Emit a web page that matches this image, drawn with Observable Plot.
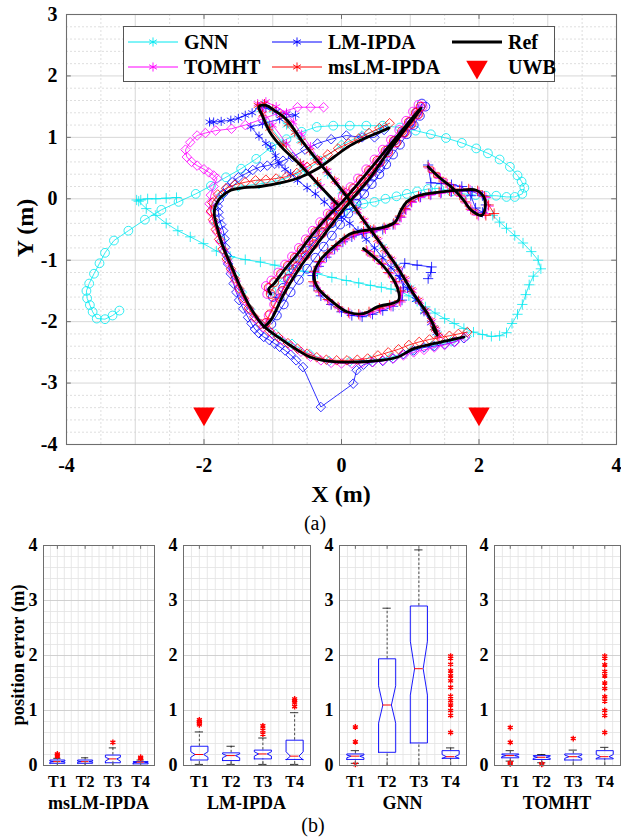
<!DOCTYPE html>
<html><head><meta charset="utf-8">
<script src="https://cdn.jsdelivr.net/npm/d3@7"></script>
<script src="https://cdn.jsdelivr.net/npm/@observablehq/plot@0.6"></script>
<style>
body{margin:0;background:#fff;}
#wrap{position:relative;width:621px;height:839px;overflow:hidden;background:#fff;}
#wrap svg{position:absolute;}
</style></head><body><div id="wrap"></div>
<script>
// ---------- axis / category data ----------
const xTickVals = [-4, -2, 0, 2, 4];
const yTickVals = [-4, -3, -2, -1, 0, 1, 2, 3];
const methods = ["GNN", "LM-IPDA", "TOMHT", "msLM-IPDA"];
const targets = ["T1", "T2", "T3", "T4"];
const uwbX = [-2, 2];
const uwbY = [-3.5, -3.5];

// ---------- reference trajectories (x,y pairs, metres) ----------
const refT1 = [-0.05,-0.1, -0.35,0.25, -0.6,0.55, -0.87,0.84, -1.05,1.1, -1.15,1.35, -1.2,1.5, -1.1,1.52, -0.98,1.44, -0.79,1.28, -0.6,0.98, -0.35,0.62, -0.11,0.3, 0.08,0.03, 0.32,-0.35, 0.57,-0.73, 0.81,-1.11, 1.05,-1.55, 1.25,-1.87, 1.37,-2.14, 1.39,-2.22, 1.33,-2.1];
const refT2 = [-1.03,-1.55, -1.06,-1.47, -0.98,-1.38, -0.84,-1.17, -0.64,-0.9, -0.45,-0.62, -0.21,-0.3, 0.03,-0.03, 0.28,0.3, 0.52,0.62, 0.76,0.95, 0.96,1.22, 1.1,1.41, 1.16,1.48, 1.1,1.38, 0.91,1.11, 0.66,0.73, 0.42,0.35, 0.18,0.03, -0.06,-0.3, -0.35,-0.73, -0.6,-1.11, -0.84,-1.55, -1.03,-1.98, -1.13,-2.09];
const refT3 = [1.26,0.52, 1.42,0.35, 1.63,0.16, 1.78,-0.03, 1.89,-0.19, 2.04,-0.27, 2.09,-0.14, 2.07,0.03, 1.96,0.14, 1.73,0.14, 1.42,0.11, 1.11,0.05, 0.95,-0.05, 0.86,-0.2, 0.78,-0.38, 0.62,-0.46, 0.32,-0.52, 0.13,-0.57, -0.06,-0.73, -0.31,-1.0, -0.4,-1.22, -0.35,-1.44, -0.16,-1.65, 0.08,-1.84, 0.32,-1.87, 0.52,-1.76, 0.83,-1.65, 0.81,-1.44, 0.62,-1.11, 0.42,-0.9, 0.32,-0.81];
const refT4 = [0.69,1.15, 0.52,1.07, 0.37,1.0, 0.13,0.87, -0.11,0.68, -0.35,0.49, -0.6,0.35, -0.84,0.27, -1.18,0.2, -1.42,0.18, -1.61,0.14, -1.76,0.02, -1.84,-0.14, -1.85,-0.26, -1.8,-0.5, -1.72,-0.79, -1.6,-1.1, -1.47,-1.44, -1.33,-1.76, -1.15,-2.05, -0.9,-2.27, -0.66,-2.45, -0.45,-2.58, -0.22,-2.64, 0.1,-2.66, 0.57,-2.63, 0.81,-2.58, 1.05,-2.44, 1.29,-2.37, 1.54,-2.31, 1.78,-2.25];

// ---------- GNN tracks ----------
const gnnT1 = [-0.1,-0.1, -0.35,0.25, -0.6,0.58, -0.85,0.9, -1.05,1.2, -1.18,1.45, -1.15,1.52, -1.0,1.44, -0.8,1.2, -0.6,0.95, -0.4,0.68, -0.2,0.4, 0.0,0.12, 0.2,-0.18, 0.4,-0.48, 0.6,-0.78, 0.8,-1.1, 1.0,-1.45, 1.2,-1.82, 1.35,-2.1, 1.4,-2.2];
const gnnT2 = [-1.02,-1.5, -0.85,-1.28, -0.68,-1.05, -0.5,-0.82, -0.32,-0.6, -0.15,-0.4, 0.02,-0.22, 0.18,-0.12, 0.32,-0.08, 0.48,-0.05, 0.64,0.0, 0.8,0.04, 0.95,0.08, 1.1,0.12, 1.26,0.16, 1.42,0.17, 1.6,0.12, 1.78,0.08, 1.95,0.06, 2.1,0.05, 2.25,0.05, 2.4,0.03, 2.52,0.03, 2.63,0.08, 2.66,0.18, 2.62,0.28, 2.56,0.38, 2.45,0.52, 2.3,0.64, 2.13,0.74, 1.96,0.82, 1.75,0.91, 1.52,0.99, 1.3,1.05, 1.08,1.11, 0.85,1.16, 0.6,1.19, 0.36,1.19, 0.12,1.19, -0.12,1.19, -0.36,1.17, -0.58,1.09, -0.8,0.97, -1.02,0.84, -1.24,0.65, -1.46,0.49, -1.68,0.35, -1.9,0.21, -2.12,0.08, -2.37,-0.05, -2.62,-0.18, -2.86,-0.34, -3.1,-0.52, -3.31,-0.68, -3.44,-0.88, -3.52,-1.05, -3.6,-1.22, -3.67,-1.38, -3.71,-1.5, -3.7,-1.62, -3.66,-1.73, -3.62,-1.84, -3.56,-1.95, -3.44,-1.96, -3.33,-1.9, -3.23,-1.82];
const gnnT3 = [-2.4,0.02, -2.55,0.01, -2.7,0.0, -2.82,0.0, -2.92,-0.02, -2.98,-0.02, -2.95,-0.04, -2.84,-0.16, -2.7,-0.27, -2.55,-0.4, -2.38,-0.52, -2.2,-0.62, -2.01,-0.73, -1.82,-0.85, -1.62,-0.94, -1.4,-0.99, -1.18,-1.03, -0.97,-1.08, -0.76,-1.14, -0.55,-1.18, -0.35,-1.22, -0.14,-1.28, 0.07,-1.33, 0.25,-1.37, 0.42,-1.41, 0.58,-1.44, 0.72,-1.47, 0.86,-1.51, 0.98,-1.58, 1.1,-1.67, 1.22,-1.76, 1.36,-1.86, 1.5,-1.95, 1.64,-2.03, 1.78,-2.11, 1.92,-2.17, 2.05,-2.21, 2.18,-2.24, 2.3,-2.23, 2.4,-2.18, 2.48,-2.03, 2.56,-1.88, 2.63,-1.72, 2.68,-1.56, 2.73,-1.4, 2.79,-1.26, 2.9,-1.14, 2.86,-1.0, 2.76,-0.86, 2.64,-0.72, 2.52,-0.6, 2.4,-0.48, 2.3,-0.38, 2.2,-0.27];
const gnnT4 = [0.62,1.16, 0.3,1.03, 0.0,0.88, -0.3,0.62, -0.6,0.42, -0.9,0.3, -1.2,0.24, -1.5,0.2, -1.75,0.06, -1.86,-0.14, -1.82,-0.4, -1.74,-0.68, -1.64,-0.96, -1.55,-1.24, -1.45,-1.52, -1.33,-1.8, -1.18,-2.04, -0.96,-2.2, -0.72,-2.36, -0.46,-2.53, -0.18,-2.64, 0.12,-2.65, 0.42,-2.63, 0.72,-2.58, 1.02,-2.47, 1.32,-2.39, 1.6,-2.32, 1.82,-2.24];

// ---------- LM-IPDA tracks ----------
const lmT1 = [-1.92,1.25, -1.86,1.25, -1.75,1.26, -1.61,1.28, -1.5,1.31, -1.4,1.36, -1.3,1.4, -1.2,1.5, -1.1,1.48, -0.95,1.42, -0.8,1.38, -0.67,1.36, -0.9,1.3, -1.15,1.22, -1.32,1.17, -1.2,1.02, -1.1,0.9, -1.03,0.84, -0.96,0.7, -0.91,0.57, -0.82,0.48, -0.74,0.41, -0.64,0.3, -0.5,0.18, -0.38,0.08, -0.25,-0.05, -0.12,-0.18, 0.0,-0.3, 0.12,-0.4, 0.24,-0.52, 0.36,-0.66, 0.48,-0.8, 0.6,-0.96, 0.72,-1.12, 0.84,-1.28, 0.96,-1.46, 1.08,-1.64, 1.2,-1.84, 1.3,-2.02, 1.38,-2.18];
const lmT2 = [-1.0,-1.6, -0.9,-1.62, -0.85,-1.45, -0.78,-1.3, -0.7,-1.15, -0.6,-1.0, -0.5,-0.85, -0.4,-0.7, -0.28,-0.55, -0.15,-0.4, -0.02,-0.25, 0.1,-0.1, 0.22,0.05, 0.34,0.2, 0.46,0.36, 0.56,0.5, 0.6,0.65, 0.68,0.8, 0.78,0.95, 0.9,1.08, 1.0,1.25, 1.1,1.42, 1.17,1.55, 1.22,1.5, 1.14,1.35, 1.05,1.2, 0.95,1.05, 0.85,0.88, 0.75,0.72, 0.65,0.56, 0.55,0.4, 0.44,0.24, 0.33,0.08, 0.22,-0.08, 0.1,-0.24, -0.02,-0.42, -0.14,-0.6, -0.26,-0.78, -0.38,-0.96, -0.5,-1.14, -0.62,-1.32, -0.74,-1.52, -0.84,-1.72, -0.94,-1.9, -1.02,-2.04];
const lmT3 = [1.26,0.55, 1.3,0.26, 1.45,0.25, 1.6,0.23, 1.75,0.2, 1.88,0.05, 1.95,-0.15, 2.05,-0.22, 2.1,-0.1, 2.05,0.05, 1.9,0.12, 1.75,0.13, 1.6,0.12, 1.45,0.1, 1.3,0.07, 1.15,0.03, 1.02,-0.05, 0.93,-0.17, 0.85,-0.3, 0.75,-0.42, 0.6,-0.5, 0.45,-0.54, 0.3,-0.57, 0.15,-0.62, 0.02,-0.7, -0.1,-0.82, -0.22,-0.95, -0.33,-1.1, -0.42,-1.25, -0.4,-1.42, -0.3,-1.58, -0.15,-1.72, 0.0,-1.84, 0.15,-1.9, 0.3,-1.92, 0.45,-1.88, 0.6,-1.82, 0.75,-1.75, 0.88,-1.65, 0.9,-1.45, 0.85,-1.25, 0.92,-1.05, 1.1,-1.08, 1.31,-1.11, 1.3,-1.2, 1.26,-1.3];
const lmT4 = [0.62,1.12, 0.48,1.0, 0.3,1.0, 0.07,1.03, -0.15,0.97, -0.35,0.9, -0.53,0.8, -0.71,0.68, -0.85,0.62, -0.97,0.57, -1.08,0.54, -1.18,0.52, -1.29,0.47, -1.39,0.41, -1.5,0.35, -1.59,0.27, -1.66,0.18, -1.72,0.08, -1.78,-0.02, -1.8,-0.12, -1.79,-0.22, -1.78,-0.32, -1.75,-0.42, -1.72,-0.52, -1.7,-0.65, -1.69,-0.79, -1.67,-0.92, -1.65,-1.06, -1.61,-1.22, -1.57,-1.38, -1.53,-1.52, -1.49,-1.65, -1.43,-1.79, -1.36,-1.93, -1.31,-2.03, -1.26,-2.12, -1.2,-2.19, -1.13,-2.25, -1.05,-2.3, -0.97,-2.36, -0.9,-2.41, -0.82,-2.47, -0.74,-2.54, -0.66,-2.63, -0.56,-2.74, -0.3,-3.39, 0.17,-3.01, 0.22,-2.79, 0.32,-2.7, 0.45,-2.66, 0.6,-2.64, 0.75,-2.6, 0.9,-2.53, 1.05,-2.47, 1.2,-2.42, 1.35,-2.4, 1.5,-2.37, 1.64,-2.33, 1.78,-2.27];

// ---------- TOMHT tracks ----------
const toT1 = [-0.1,-0.1, -0.3,0.2, -0.55,0.55, -0.8,0.9, -1.0,1.2, -1.15,1.45, -1.22,1.55, -1.1,1.58, -0.95,1.5, -0.8,1.4, -0.7,1.25, -0.58,1.05, -0.45,0.85, -0.32,0.62, -0.2,0.45, -0.08,0.28, 0.04,0.12, 0.14,-0.04, 0.24,-0.2, 0.34,-0.36, 0.44,-0.52, 0.54,-0.68, 0.64,-0.84, 0.74,-1.0, 0.84,-1.16, 0.94,-1.32, 1.04,-1.5, 1.14,-1.67, 1.24,-1.84, 1.32,-2.0, 1.38,-2.14, 1.42,-2.24, 1.36,-2.12];
const toT2 = [-1.08,-1.55, -1.1,-1.42, -1.02,-1.33, -0.92,-1.2, -0.82,-1.07, -0.72,-0.94, -0.62,-0.8, -0.52,-0.66, -0.42,-0.52, -0.31,-0.38, -0.2,-0.24, -0.09,-0.1, 0.02,0.04, 0.13,0.19, 0.24,0.33, 0.36,0.48, 0.48,0.64, 0.6,0.8, 0.72,0.96, 0.84,1.12, 0.94,1.27, 1.04,1.42, 1.12,1.53, 1.18,1.5, 1.1,1.36, 1.0,1.2, 0.9,1.06, 0.78,0.9, 0.66,0.74, 0.54,0.58, 0.42,0.42, 0.3,0.26, 0.18,0.1, 0.06,-0.06, -0.06,-0.22, -0.18,-0.4, -0.3,-0.58, -0.42,-0.76, -0.54,-0.94, -0.66,-1.12, -0.78,-1.32, -0.88,-1.52, -0.98,-1.72, -1.06,-1.9, -1.12,-2.04];
const toT3 = [1.28,0.5, 1.36,0.41, 1.44,0.33, 1.54,0.24, 1.65,0.14, 1.74,0.04, 1.82,-0.07, 1.9,-0.19, 1.99,-0.27, 2.09,-0.24, 2.14,-0.12, 2.1,0.02, 2.0,0.11, 1.87,0.14, 1.74,0.13, 1.59,0.11, 1.44,0.09, 1.29,0.06, 1.14,0.02, 1.02,-0.06, 0.94,-0.18, 0.87,-0.3, 0.78,-0.42, 0.64,-0.49, 0.49,-0.52, 0.34,-0.55, 0.19,-0.59, 0.06,-0.67, -0.06,-0.78, -0.18,-0.9, -0.3,-1.04, -0.38,-1.2, -0.39,-1.37, -0.31,-1.52, -0.18,-1.66, -0.03,-1.78, 0.12,-1.87, 0.27,-1.9, 0.42,-1.86, 0.57,-1.8, 0.72,-1.75, 0.86,-1.68, 0.88,-1.52, 0.8,-1.37, 0.7,-1.22, 0.6,-1.07, 0.48,-0.95, 0.38,-0.86];
const toT4 = [-0.26,1.49, -0.45,1.49, -0.64,1.49, -0.9,1.4, -1.15,1.3, -1.4,1.2, -1.6,1.14, -1.83,1.11, -1.98,1.07, -2.1,1.03, -2.2,0.92, -2.27,0.8, -2.25,0.68, -2.18,0.6, -2.1,0.54, -2.0,0.48, -1.93,0.43, -1.86,0.38, -1.81,0.33, -1.86,0.2, -1.9,0.06, -1.92,-0.08, -1.9,-0.22, -1.86,-0.38, -1.81,-0.54, -1.76,-0.7, -1.71,-0.86, -1.66,-1.02, -1.6,-1.18, -1.54,-1.34, -1.48,-1.5, -1.41,-1.66, -1.34,-1.81, -1.25,-1.96, -1.14,-2.09, -1.01,-2.2, -0.87,-2.3, -0.73,-2.4, -0.59,-2.49, -0.45,-2.57, -0.3,-2.63, -0.15,-2.67, 0.0,-2.68, 0.15,-2.68, 0.3,-2.67, 0.45,-2.66, 0.6,-2.63, 0.75,-2.6, 0.9,-2.55, 1.05,-2.5, 1.2,-2.46, 1.35,-2.42, 1.5,-2.38, 1.65,-2.33, 1.8,-2.25];

// ---------- msLM-IPDA tracks ----------
const msT1 = [-0.1,-0.05, -0.35,0.28, -0.6,0.58, -0.85,0.88, -1.05,1.15, -1.15,1.38, -1.22,1.52, -1.12,1.55, -1.0,1.46, -0.88,1.36, -0.78,1.22, -0.68,1.08, -0.58,0.94, -0.46,0.78, -0.34,0.62, -0.22,0.46, -0.1,0.3, 0.02,0.14, 0.12,-0.02, 0.22,-0.18, 0.32,-0.35, 0.42,-0.5, 0.52,-0.66, 0.62,-0.82, 0.72,-0.98, 0.82,-1.14, 0.92,-1.3, 1.02,-1.48, 1.12,-1.65, 1.22,-1.82, 1.3,-1.98, 1.36,-2.12, 1.4,-2.22, 1.34,-2.1];
const msT2 = [-1.03,-1.55, -1.06,-1.45, -0.98,-1.36, -0.88,-1.22, -0.78,-1.09, -0.68,-0.96, -0.58,-0.82, -0.48,-0.68, -0.38,-0.54, -0.27,-0.4, -0.16,-0.26, -0.05,-0.12, 0.06,0.02, 0.17,0.17, 0.28,0.31, 0.4,0.46, 0.52,0.62, 0.64,0.78, 0.76,0.94, 0.88,1.1, 0.98,1.25, 1.08,1.4, 1.15,1.5, 1.12,1.38, 1.02,1.22, 0.92,1.08, 0.8,0.92, 0.68,0.76, 0.56,0.6, 0.44,0.44, 0.32,0.28, 0.2,0.12, 0.08,-0.04, -0.04,-0.2, -0.16,-0.38, -0.28,-0.56, -0.4,-0.74, -0.52,-0.92, -0.64,-1.1, -0.76,-1.3, -0.86,-1.5, -0.96,-1.7, -1.04,-1.88, -1.1,-2.02];
const msT3 = [1.26,0.52, 1.34,0.43, 1.42,0.35, 1.52,0.26, 1.63,0.16, 1.72,0.06, 1.8,-0.05, 1.88,-0.17, 1.97,-0.25, 2.1,-0.27, 2.22,-0.24, 2.14,-0.1, 2.08,0.04, 1.98,0.13, 1.85,0.16, 1.72,0.15, 1.57,0.13, 1.42,0.11, 1.27,0.08, 1.12,0.04, 1.0,-0.04, 0.92,-0.16, 0.85,-0.28, 0.76,-0.4, 0.62,-0.47, 0.47,-0.5, 0.32,-0.53, 0.17,-0.57, 0.04,-0.65, -0.08,-0.76, -0.2,-0.88, -0.32,-1.02, -0.4,-1.18, -0.41,-1.35, -0.33,-1.5, -0.2,-1.64, -0.05,-1.76, 0.1,-1.85, 0.25,-1.88, 0.4,-1.84, 0.55,-1.78, 0.7,-1.73, 0.84,-1.66, 0.86,-1.5, 0.78,-1.35, 0.68,-1.2, 0.58,-1.05, 0.46,-0.93, 0.36,-0.84];
const msT4 = [0.7,1.23, 0.55,1.15, 0.4,1.07, 0.25,0.98, 0.1,0.9, -0.05,0.82, -0.2,0.72, -0.35,0.63, -0.5,0.52, -0.65,0.42, -0.8,0.36, -0.95,0.33, -1.1,0.31, -1.25,0.3, -1.4,0.27, -1.55,0.23, -1.68,0.17, -1.8,0.07, -1.88,-0.06, -1.9,-0.2, -1.87,-0.34, -1.83,-0.5, -1.78,-0.66, -1.73,-0.82, -1.67,-0.98, -1.61,-1.14, -1.55,-1.3, -1.49,-1.46, -1.42,-1.62, -1.35,-1.78, -1.27,-1.92, -1.17,-2.04, -1.05,-2.15, -0.92,-2.25, -0.78,-2.35, -0.64,-2.44, -0.5,-2.52, -0.36,-2.58, -0.22,-2.62, -0.07,-2.63, 0.08,-2.63, 0.23,-2.62, 0.38,-2.6, 0.53,-2.55, 0.68,-2.5, 0.83,-2.45, 0.98,-2.38, 1.13,-2.33, 1.28,-2.29, 1.43,-2.26, 1.57,-2.23, 1.7,-2.2, 1.83,-2.17];

// ---------- box-plot statistics (position error, m) ----------
const msQ1 = [0.04, 0.04, 0.05, 0.03];
const msMed = [0.07, 0.07, 0.12, 0.06];
const msQ3 = [0.10, 0.10, 0.19, 0.07];
const msNlo = [0.06, 0.06, 0.08, 0.05];
const msNhi = [0.08, 0.08, 0.15, 0.065];
const msWlo = [0.0, 0.0, 0.0, 0.0];
const msWhi = [0.13, 0.14, 0.32, 0.10];
const msOut = [[0.17, 0.19, 0.21], [], [0.42], [0.13, 0.15]];

const lmQ1 = [0.10, 0.09, 0.12, 0.11];
const lmMed = [0.20, 0.18, 0.21, 0.17];
const lmQ3 = [0.35, 0.23, 0.28, 0.46];
const lmNlo = [0.15, 0.14, 0.17, 0.10];
const lmNhi = [0.25, 0.21, 0.25, 0.25];
const lmWlo = [0.02, 0.02, 0.02, 0.02];
const lmWhi = [0.61, 0.35, 0.50, 0.96];
const lmOut = [[0.74, 0.77, 0.80, 0.83], [], [0.57, 0.64, 0.72], [1.07, 1.14, 1.18, 1.21]];

const gnQ1 = [0.11, 0.24, 0.41, 0.13];
const gnMed = [0.17, 1.10, 1.76, 0.16];
const gnQ3 = [0.21, 1.94, 2.90, 0.27];
const gnNlo = [0.14, 0.77, 1.28, 0.13];
const gnNhi = [0.19, 1.45, 2.26, 0.20];
const gnWlo = [0.04, 0.0, 0.0, 0.0];
const gnWhi = [0.27, 2.86, 3.92, 0.32];
const gnOut = [[0.02, 0.43, 0.70], [], [], [0.60, 0.91, 1.00, 1.10, 1.18, 1.26, 1.42, 1.54, 1.63, 1.72, 1.84, 1.95, 1.99]];

const toQ1 = [0.14, 0.11, 0.10, 0.12];
const toMed = [0.18, 0.15, 0.16, 0.16];
const toQ3 = [0.21, 0.18, 0.21, 0.27];
const toNlo = [0.16, 0.13, 0.13, 0.13];
const toNhi = [0.20, 0.17, 0.19, 0.20];
const toWlo = [0.08, 0.05, 0.0, 0.0];
const toWhi = [0.27, 0.20, 0.28, 0.33];
const toOut = [[0.03, 0.05, 0.42, 0.69], [0.02, 0.03], [0.49], [0.60, 0.91, 1.00, 1.17, 1.25, 1.40, 1.50, 1.63, 1.71, 1.83, 1.95, 1.99]];

// ---------- rendering ----------
const FONT = '"Liberation Serif","Times New Roman",Times,serif';
const wrap = document.getElementById("wrap");
const toPts = a => { const r = []; for (let i = 0; i < a.length; i += 2) r.push({x: a[i], y: a[i + 1]}); return r; };

const COL = {"GNN": "#00e8f0", "LM-IPDA": "#0000ff", "TOMHT": "#ff00ff", "msLM-IPDA": "#ff0000"};
const SYM = ["asterisk", "circle", "plus", "diamond2"];
const RSZ = [4.3, 4.4, 3.4, 4.3];
const trackData = {
  "GNN": [gnnT1, gnnT2, gnnT3, gnnT4],
  "LM-IPDA": [lmT1, lmT2, lmT3, lmT4],
  "TOMHT": [toT1, toT2, toT3, toT4],
  "msLM-IPDA": [msT1, msT2, msT3, msT4]
};

const trackMarks = methods.flatMap(m => trackData[m].flatMap((arr, k) => {
  const d = toPts(arr);
  return [
    Plot.line(d, {x: "x", y: "y", stroke: COL[m], strokeWidth: 0.8}),
    Plot.dot(d, {x: "x", y: "y", symbol: SYM[k], r: RSZ[k], stroke: COL[m], fill: "none", strokeWidth: 0.8})
  ];
}));
const refMarks = [refT1, refT2, refT3, refT4].map(a =>
  Plot.line(toPts(a), {x: "x", y: "y", stroke: "#000", strokeWidth: 2.8, curve: "catmull-rom"}));

const xMinor = d3.range(-3.5, 4, 0.5).filter(v => Math.abs(v % 1) > 1e-6);
const yMinor = d3.range(-3.8, 3, 0.2).filter(v => Math.abs(v - Math.round(v)) > 1e-6);
const xMajor = d3.range(-3, 4, 1);
const yMajor = d3.range(-3, 3, 1);

const topPlot = Plot.plot({
  width: 621, height: 480,
  marginLeft: 66, marginRight: 5, marginTop: 14, marginBottom: 36,
  x: {domain: [-4, 4]}, y: {domain: [-4, 3]},
  style: {fontFamily: FONT, fontWeight: "bold", fontSize: "20px", background: "transparent", overflow: "visible"},
  marks: [
    Plot.ruleX(xMinor, {stroke: "#d6d6d6", strokeDasharray: "2,2", strokeWidth: 0.8}),
    Plot.ruleY(yMinor, {stroke: "#d6d6d6", strokeDasharray: "2,2", strokeWidth: 0.8}),
    Plot.ruleX(xMajor, {stroke: "#d2d2d2", strokeWidth: 0.9}),
    Plot.ruleY(yMajor, {stroke: "#d2d2d2", strokeWidth: 0.9}),
    ...trackMarks,
    ...refMarks,
    Plot.dot(uwbX.map((x, i) => ({x, y: uwbY[i]})), {x: "x", y: "y", symbol: "triangle", rotate: 180, r: 8, fill: "#ff0000", stroke: "none"}),
    Plot.ruleX(xTickVals, {y1: -4, y2: -3.92, stroke: "#6e6e6e"}),
    Plot.ruleX(xTickVals, {y1: 3, y2: 2.92, stroke: "#6e6e6e"}),
    Plot.ruleY(yTickVals, {x1: -4, x2: -3.93, stroke: "#6e6e6e"}),
    Plot.ruleY(yTickVals, {x1: 4, x2: 3.93, stroke: "#6e6e6e"}),
    Plot.frame({stroke: "#6e6e6e", strokeWidth: 1.1}),
    Plot.axisX(xTickVals, {tickSize: 0, tickPadding: 13, tickFormat: d => String(d), fontSize: 20, fontWeight: "bold", label: null}),
    Plot.axisY(yTickVals, {tickSize: 0, tickPadding: 9, tickFormat: d => String(d), fontSize: 20, fontWeight: "bold", label: null})
  ]
});
topPlot.style.left = "0px"; topPlot.style.top = "0px";
wrap.appendChild(topPlot);

// ---------- box panels ----------
function makePanel(left, w, q1, med, q3, nlo, nhi, wlo, whi, outs) {
  const ml = 40, mr = 2, mt = 10, mb = 30;
  const rows = targets.map((t, k) => ({i: k + 1, q1: q1[k], med: med[k], q3: q3[k], nlo: nlo[k], nhi: nhi[k], wlo: wlo[k], whi: whi[k]}));
  const bw = 0.27, cw = 0.13;
  const poly = rows.flatMap(r => [
    [r.i - bw, r.q1], [r.i - bw, r.nlo], [r.i - bw / 2, r.med], [r.i - bw, r.nhi], [r.i - bw, r.q3],
    [r.i + bw, r.q3], [r.i + bw, r.nhi], [r.i + bw / 2, r.med], [r.i + bw, r.nlo], [r.i + bw, r.q1], [r.i - bw, r.q1]
  ].map(([x, y]) => ({x, y, k: r.i})));
  const outRows = outs.flatMap((arr, k) => arr.map(v => ({i: k + 1, v})));
  const gx = d3.range(0.75, 4.5, 0.25);
  const gy = d3.range(0.2, 4, 0.2).filter(v => Math.abs(v - Math.round(v)) > 1e-6);
  const p = Plot.plot({
    width: w + ml + mr, height: 220 + mt + mb,
    marginLeft: ml, marginRight: mr, marginTop: mt, marginBottom: mb,
    x: {domain: [0.5, 4.5]}, y: {domain: [0, 4]},
    style: {fontFamily: FONT, fontWeight: "bold", fontSize: "17px", background: "transparent", overflow: "visible"},
    marks: [
      Plot.ruleX(gx, {stroke: "#e2e2e2", strokeWidth: 0.8}),
      Plot.ruleY(gy, {stroke: "#e2e2e2", strokeWidth: 0.8}),
      Plot.ruleY([1, 2, 3], {stroke: "#cccccc", strokeWidth: 0.9}),
      Plot.ruleX(rows, {x: "i", y1: "q3", y2: "whi", stroke: "#000", strokeWidth: 0.7, strokeDasharray: "2.5,2"}),
      Plot.ruleX(rows, {x: "i", y1: "wlo", y2: "q1", stroke: "#000", strokeWidth: 0.7, strokeDasharray: "2.5,2"}),
      Plot.ruleY(rows, {y: "whi", x1: d => d.i - cw, x2: d => d.i + cw, stroke: "#000", strokeWidth: 0.8}),
      Plot.ruleY(rows, {y: "wlo", x1: d => d.i - cw, x2: d => d.i + cw, stroke: "#000", strokeWidth: 0.8}),
      Plot.line(poly, {x: "x", y: "y", z: "k", stroke: "#0000ff", strokeWidth: 0.9}),
      Plot.ruleY(rows, {y: "med", x1: d => d.i - bw / 2, x2: d => d.i + bw / 2, stroke: "#ff0000", strokeWidth: 1}),
      Plot.dot(outRows, {x: "i", y: "v", symbol: "asterisk", r: 2.7, stroke: "#ff0000", strokeWidth: 1.4}),
      Plot.ruleX([1, 2, 3, 4], {y1: 0, y2: 0.07, stroke: "#6e6e6e"}),
      Plot.ruleX([1, 2, 3, 4], {y1: 4, y2: 3.93, stroke: "#6e6e6e"}),
      Plot.frame({stroke: "#6e6e6e", strokeWidth: 1}),
      Plot.axisX([1, 2, 3, 4], {tickSize: 0, tickPadding: 10, tickFormat: i => targets[i - 1], fontSize: 16, fontWeight: "bold", label: null}),
      Plot.axisY([0, 1, 2, 3, 4], {tickSize: 0, tickPadding: 6, tickFormat: d => String(d), fontSize: 18, fontWeight: "bold", label: null})
    ]
  });
  p.style.left = (left - ml) + "px";
  p.style.top = (545 - mt) + "px";
  wrap.appendChild(p);
}
const panelLeft = [43, 183, 339, 494];
const panelW = [111, 127, 127, 126];
makePanel(panelLeft[0], panelW[0], msQ1, msMed, msQ3, msNlo, msNhi, msWlo, msWhi, msOut);
makePanel(panelLeft[1], panelW[1], lmQ1, lmMed, lmQ3, lmNlo, lmNhi, lmWlo, lmWhi, lmOut);
makePanel(panelLeft[2], panelW[2], gnQ1, gnMed, gnQ3, gnNlo, gnNhi, gnWlo, gnWhi, gnOut);
makePanel(panelLeft[3], panelW[3], toQ1, toMed, toQ3, toNlo, toNhi, toWlo, toWhi, toOut);

// ---------- overlay: titles, labels, legend ----------
const ov = d3.create("svg").attr("width", 621).attr("height", 839)
  .style("left", "0px").style("top", "0px").style("pointer-events", "none")
  .style("font-family", FONT);
const txt = (s, x, y, size, weight, anchor = "middle", rot = 0) => {
  const t = ov.append("text").attr("text-anchor", anchor).attr("font-size", size).attr("font-weight", weight).attr("fill", "#000").text(s);
  if (rot) t.attr("transform", `translate(${x},${y}) rotate(${rot})`); else t.attr("x", x).attr("y", y);
  return t;
};
txt("Y (m)", 33, 228, 24, "bold", "middle", -90);
txt("X (m)", 341, 502, 24, "bold");
txt("(a)", 315, 530, 20, "normal");
txt("position error (m)", 24, 655, 18.5, "bold", "middle", -90);
const panelTitles = ["msLM-IPDA", "LM-IPDA", "GNN", "TOMHT"];
panelTitles.forEach((s, k) => txt(s, panelLeft[k] + panelW[k] / 2, 809, 18, "bold"));
txt("(b)", 313, 832, 20, "normal");

// legend
const lg = ov.append("g");
lg.append("rect").attr("x", 123.5).attr("y", 26.5).attr("width", 431).attr("height", 55).attr("fill", "#fff").attr("stroke", "#555").attr("stroke-width", 1);
const legendItems = [
  {name: "GNN", color: COL["GNN"], kind: "track"},
  {name: "LM-IPDA", color: COL["LM-IPDA"], kind: "track"},
  {name: "Ref", color: "#000", kind: "ref"},
  {name: "TOMHT", color: COL["TOMHT"], kind: "track"},
  {name: "msLM-IPDA", color: COL["msLM-IPDA"], kind: "track"},
  {name: "UWB", color: "#ff0000", kind: "uwb"}
];
const colLine = [128, 272, 452], colText = [184, 328, 508], rowY = [42, 67];
const astPath = d3.symbol(d3.symbolAsterisk, Math.PI * 4.3 * 4.3)();
const triPath = d3.symbol(d3.symbolTriangle, Math.PI * 8 * 8)();
legendItems.forEach((it, i) => {
  const c = i % 3, r = Math.floor(i / 3), y = rowY[r], x0 = colLine[c];
  if (it.kind === "track") {
    lg.append("line").attr("x1", x0).attr("x2", x0 + 50).attr("y1", y).attr("y2", y).attr("stroke", it.color).attr("stroke-width", 1);
    lg.append("path").attr("d", astPath).attr("transform", `translate(${x0 + 25},${y})`).attr("stroke", it.color).attr("fill", "none").attr("stroke-width", 0.9);
  } else if (it.kind === "ref") {
    lg.append("line").attr("x1", x0).attr("x2", x0 + 50).attr("y1", y).attr("y2", y).attr("stroke", "#000").attr("stroke-width", 2.8);
  } else {
    lg.append("path").attr("d", triPath).attr("transform", `translate(${x0 + 25},${y}) rotate(180)`).attr("fill", it.color);
  }
  lg.append("text").attr("x", colText[c]).attr("y", y + 7).attr("font-size", 20).attr("font-weight", "bold").attr("fill", "#000").text(it.name);
});
wrap.appendChild(ov.node());
</script></body></html>
